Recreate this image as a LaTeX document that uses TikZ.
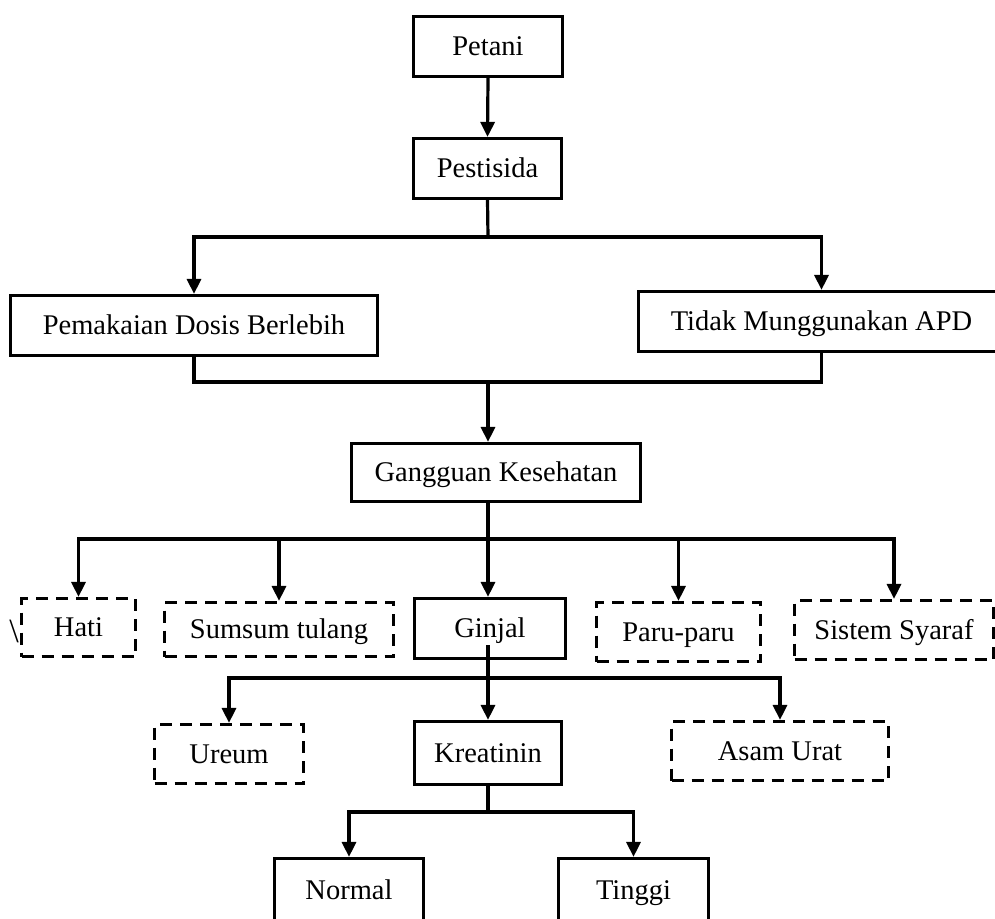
\documentclass[tikz,border=0pt]{standalone}
\usepackage{fontspec}
\setmainfont{Liberation Serif}
\usetikzlibrary{arrows.meta}
\begin{document}
\begin{tikzpicture}[x=1pt,y=-1pt,
  every node/.style={font=\fontsize{28.5}{34}\selectfont, inner sep=0pt},
  boxtext/.style={text height=23pt, text depth=5pt},
  solidbox/.style={boxtext, draw=black, line width=3.2pt, rectangle},
  dashbox/.style={boxtext, draw=black, line width=3.2pt, rectangle, dash pattern=on 12pt off 8pt},
  conn/.style={line width=3.2pt},
  arr/.style={line width=3.2pt, -{Triangle[width=14pt,length=15pt]}}]
\useasboundingbox (0,0) rectangle (995,918);
% nodes
\node[solidbox, minimum width=149pt, minimum height=60pt] (petani) at (488,46.5) {Petani};
\node[solidbox, minimum width=148pt, minimum height=60pt] (pest) at (487.5,168.5) {Pestisida};
\node[solidbox, minimum width=367pt, minimum height=60pt] (pemak) at (194,325.5) {Pemakaian Dosis Berlebih};
\node[solidbox, minimum width=366pt, minimum height=60pt] (tidak) at (821.5,321.5) {Tidak Munggunakan APD};
\node[solidbox, minimum width=289pt, minimum height=58pt] (gang) at (496,472.5) {Gangguan Kesehatan};
\node[dashbox, minimum width=114pt, minimum height=58pt] (hati) at (78.5,627.5) {Hati};
\node[font=\fontsize{34}{40}\selectfont] (bs) at (14,631) {\textbackslash};
\node[dashbox, minimum width=229pt, minimum height=54pt] (sumsum) at (279,629.5) {Sumsum tulang};
\node[solidbox, minimum width=151pt, minimum height=60pt] (ginjal) at (490,628.5) {Ginjal};
\node[dashbox, minimum width=164pt, minimum height=59pt] (paru) at (678.5,632) {Paru-paru};
\node[dashbox, minimum width=199pt, minimum height=59pt] (sistem) at (894,630) {Sistem Syaraf};
\node[dashbox, minimum width=149pt, minimum height=59pt] (ureum) at (229,754) {Ureum};
\node[solidbox, minimum width=147pt, minimum height=63pt] (kreat) at (488,753) {Kreatinin};
\node[dashbox, minimum width=217pt, minimum height=59pt] (asam) at (780,751) {Asam Urat};
\node[solidbox, minimum width=149pt, minimum height=63pt] (normal) at (349,890) {Normal};
\node[solidbox, minimum width=150pt, minimum height=63pt] (tinggi) at (633.5,890) {Tinggi};
% junctions
\coordinate (j1) at (488,237);
\coordinate (j2) at (488,382);
\coordinate (j3) at (488,539);
\coordinate (g0) at (488,645);
\coordinate (j4) at (488,678);
\coordinate (j5) at (488,812);
% connectors
\draw[arr] (petani.south) -- (pest.north);
\draw[conn] (pest.south) -- (j1);
\draw[arr] (j1) -| (pemak.north);
\draw[arr] (j1) -| (tidak.north);
\draw[conn] (pemak.south) |- (j2) -| (tidak.south);
\draw[arr] (j2) -- (j2 |- gang.north);
\draw[conn] (j2 |- gang.south) -- (j3);
\draw[arr] (j3) -| (hati.north);
\draw[arr] (j3) -| (sumsum.north);
\draw[arr] (j3) -- (j3 |- ginjal.north);
\draw[arr] (j3) -| (paru.north);
\draw[arr] (j3) -| (sistem.north);
\draw[arr] (g0) -- (g0 |- kreat.north);
\draw[arr] (j4) -| (ureum.north);
\draw[arr] (j4) -| (asam.north);
\draw[conn] (kreat.south) -- (j5);
\draw[arr] (j5) -| (normal.north);
\draw[arr] (j5) -| (tinggi.north);
\end{tikzpicture}
\end{document}
